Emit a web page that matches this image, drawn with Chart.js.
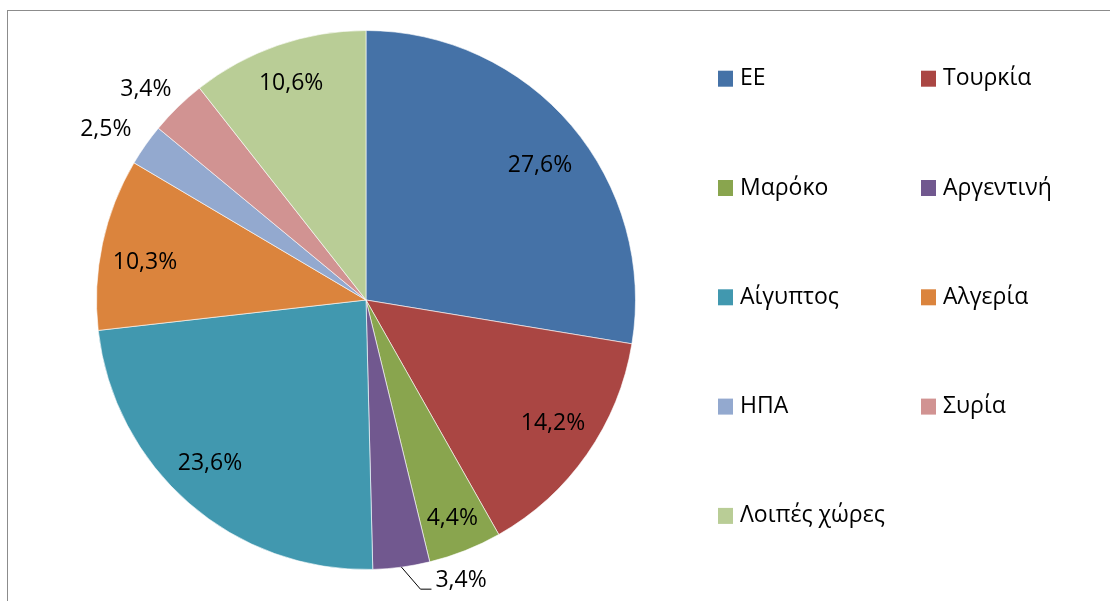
<!DOCTYPE html>
<html>
<head>
<meta charset="utf-8">
<script src="https://cdn.jsdelivr.net/npm/chart.js@4.4.0/dist/chart.umd.min.js"></script>
<style>
  body { margin: 0; background: #fff; }
  #wrap { position: relative; width: 1110px; height: 601px; overflow: hidden; }
  #frame { position: absolute; left: 7px; top: 10px; width: 1200px; height: 700px;
           border-left: 1px solid #8c8c8c; border-top: 1px solid #8c8c8c; }
  canvas { position: absolute; left: 0; top: 0; }
</style>
</head>
<body>
<div id="wrap">
  <div id="frame"></div>
  <canvas id="myChart" width="1110" height="601"></canvas>
</div>
<script>
// data
const countries = ["ΕΕ", "Τουρκία", "Μαρόκο", "Αργεντινή", "Αίγυπτος", "Αλγερία", "ΗΠΑ", "Συρία", "Λοιπές χώρες"];
const shares = [27.6, 14.2, 4.4, 3.4, 23.6, 10.3, 2.5, 3.4, 10.6];
const colors = ["#4572A7", "#AA4643", "#89A54E", "#71588F", "#4198AF", "#DB843D", "#93A9CF", "#D19392", "#B9CD96"];

// value label placement: fraction of the radius (0 = leader line) and a small turn in degrees
const labelRadius = [0.815, 0.832, 0.87, 0, 0.839, 0.832, 1.155, 1.13, 0.85];
const labelTurn = [2.7, -1.4, 0, 0, 2.6, -2.3, -1.8, -2.0, 0];

const FONT = '23px "Open Sans", "Noto Sans", sans-serif';

function fmt(v) {
  return v.toFixed(1).replace('.', ',') + '%';
}

const valueLabels = {
  id: 'valueLabels',
  afterDatasetsDraw(chart) {
    const ctx = chart.ctx;
    const meta = chart.getDatasetMeta(0);
    ctx.save();
    ctx.font = FONT;
    ctx.fillStyle = '#000';
    meta.data.forEach((arc, i) => {
      const p = arc.getProps(['x', 'y', 'startAngle', 'endAngle', 'outerRadius'], true);
      const a = (p.startAngle + p.endAngle) / 2 + labelTurn[i] * Math.PI / 180;
      const text = fmt(chart.data.datasets[0].data[i]);
      if (labelRadius[i] > 0) {
        const r = p.outerRadius * labelRadius[i];
        ctx.textAlign = 'center';
        ctx.textBaseline = 'middle';
        ctx.fillText(text, p.x + Math.cos(a) * r, p.y + Math.sin(a) * r);
      } else {
        // leader line: from the edge, down to an elbow, then short run right
        const ex = p.x + Math.cos(a) * p.outerRadius;
        const ey = p.y + Math.sin(a) * p.outerRadius;
        const kx = ex + 19, ky = ey + 22;
        ctx.strokeStyle = '#000';
        ctx.lineWidth = 1;
        ctx.beginPath();
        ctx.moveTo(ex, ey);
        ctx.lineTo(kx, ky);
        ctx.lineTo(kx + 11, ky);
        ctx.stroke();
        ctx.textAlign = 'left';
        ctx.textBaseline = 'middle';
        ctx.fillText(text, kx + 15, ky - 9);
      }
    });
    ctx.restore();
  }
};

const gridLegend = {
  id: 'gridLegend',
  afterDraw(chart) {
    const ctx = chart.ctx;
    const ds = chart.data.datasets[0];
    ctx.save();
    ctx.font = FONT;
    ctx.textAlign = 'left';
    ctx.textBaseline = 'middle';
    chart.data.labels.forEach((label, i) => {
      const col = i % 2, row = Math.floor(i / 2);
      const x = 718 + col * 203;
      const y = 78.7 + row * 109.3;
      ctx.fillStyle = ds.backgroundColor[i];
      ctx.fillRect(x, y - 8, 15, 16);
      ctx.fillStyle = '#000';
      ctx.fillText(label, x + 22, y);
    });
    ctx.restore();
  }
};

new Chart("myChart", {
  type: "pie",
  data: {
    labels: countries,
    datasets: [{
      data: shares,
      backgroundColor: colors,
      borderColor: "rgba(255,255,255,0.6)",
      borderWidth: 1
    }]
  },
  options: {
    responsive: false,
    animation: false,
    layout: { padding: { top: 30, bottom: 31, left: 96, right: 474 } },
    plugins: {
      legend: { display: false },
      tooltip: { enabled: false }
    }
  },
  plugins: [valueLabels, gridLegend]
});
</script>
</body>
</html>
